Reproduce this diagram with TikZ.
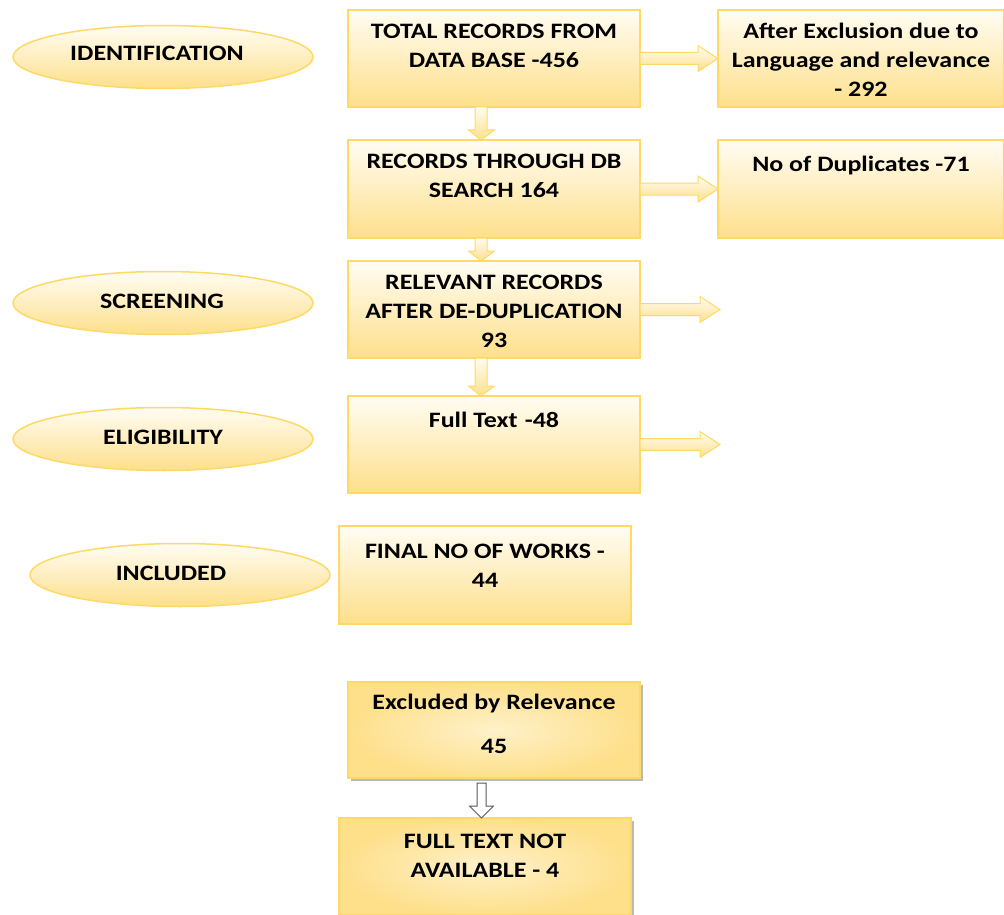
\documentclass[tikz,border=0pt]{standalone}
\usepackage{fontspec}
\setmainfont{Carlito}[FakeStretch=1.18]
\usetikzlibrary{calc,shapes.geometric,shadows}
\definecolor{gold}{HTML}{FFD966}
\definecolor{goldfill}{HTML}{FEE08B}
\definecolor{cream}{HTML}{FFFCF3}
\definecolor{arrowgrey}{HTML}{595959}
\begin{document}
\begin{tikzpicture}[x=1pt,y=-1pt,
  basebox/.style={draw=gold, line width=1.5pt,
    minimum width=292pt, minimum height=97pt, anchor=north west, inner sep=0pt, outer sep=0pt},
  box/.style={basebox, top color=cream, bottom color=goldfill},
  rbox/.style={basebox, inner color=cream!60!goldfill, outer color=goldfill,
    drop shadow={shadow xshift=3pt, shadow yshift=-3pt, opacity=0.45, fill=black!60}},
  stage/.style={ellipse, draw=gold, line width=1.5pt, top color=cream, bottom color=goldfill,
    minimum width=300pt, minimum height=63pt, inner sep=0pt},
  txt/.style={font=\bfseries\fontsize{22}{29}\selectfont, align=center, inner sep=0pt, anchor=north},
  stxt/.style={font=\bfseries\fontsize{22}{29}\selectfont, inner sep=0pt},
  arr/.style={draw=gold, line width=1pt, top color=cream, bottom color=goldfill},
  warr/.style={draw=arrowgrey, line width=1pt, fill=white}
]
\useasboundingbox (0,0) rectangle (1004,915);

% stage ellipses
\node[stage] (e1) at (163,57) {};
\node[stxt] (t1) at ($(e1.center)+(-6,-4)$) {IDENTIFICATION};
\node[stage] (e2) at (163,303) {};
\node[stxt] (t2) at ($(e2.center)+(-1,-2)$) {SCREENING};
\node[stage] (e3) at (163,439) {};
\node[stxt] (t3) at ($(e3.center)+(0,-2)$) {ELIGIBILITY};
\node[stage] (e4) at (180,575) {};
\node[stxt] (t4) at ($(e4.center)+(-9,-2)$) {INCLUDED};

% boxes
\node[box] (b1) at (348,10) {};
\node[box, minimum width=286pt] (r1) at (718,10) {};
\node[box, minimum height=98pt] (b2) at (348,140) {};
\node[box, minimum width=286pt, minimum height=98pt] (r2) at (718,140) {};
\node[box] (b3) at (348,261) {};
\node[box] (b4) at (348,396) {};
\node[box, minimum height=98pt] (b5) at (339,526) {};
\node[rbox, minimum height=96pt] (b6) at (348,682) {};
\node[rbox] (b7) at (339,818) {};

% texts
\node[txt] (tb1) at ($(b1.north)+(0,14)$) {TOTAL RECORDS FROM\\DATA BASE -456};
\node[txt] (tr1) at ($(r1.north)+(0,13)$) {After Exclusion due to\\Language and relevance\\- 292};
\node[txt] (tb2) at ($(b2.north)+(0,14)$) {RECORDS THROUGH DB\\SEARCH 164};
\node[txt] (tr2) at ($(r2.north)+(0,16)$) {No of Duplicates -71};
\node[txt] (tb3) at ($(b3.north)+(0,14)$) {RELEVANT RECORDS\\AFTER DE-DUPLICATION\\93};
\node[txt] (tb4) at ($(b4.north)+(0,16)$) {Full Text\,\,-48};
\node[txt] (tb5) at ($(b5.north)+(0,18)$) {FINAL NO OF WORKS -\\44};
\node[txt] (tb6) at ($(b6.north)+(0,12)$) {Excluded by Relevance\\[15pt]45};
\node[txt] (tb7) at ($(b7.north)+(0,16)$) {FULL TEXT NOT\\AVAILABLE - 4};

% free ends of the open arrows
\coordinate (x3) at ($(b3.east)+(80,0)$);
\coordinate (x4) at ($(b4.east)+(80,0)$);

% horizontal block arrows
\foreach \s/\t in {b1/r1, b2/r2, b3/x3, b4/x4}{
  \path[arr] let \p1=(\s.east), \p2=(\t.west) in
    (\x1,\y1+6pt) -- (\x2-20pt,\y1+6pt) -- (\x2-20pt,\y1+13pt) -- (\x2,\y1)
    -- (\x2-20pt,\y1-13pt) -- (\x2-20pt,\y1-6pt) -- (\x1,\y1-6pt) -- cycle;
}
% vertical block arrows
\foreach \s/\t in {b1/b2, b2/b3, b3/b4}{
  \path[arr] let \p1=(\s.south), \p2=(\t.north) in
    (\x1-19pt,\y1) -- (\x1-7pt,\y1) -- (\x1-7pt,\y2+10pt) -- (\x1+0.5pt,\y2+10pt)
    -- (\x1-13pt,\y2) -- (\x1-25.5pt,\y2+10pt) -- (\x1-19pt,\y2+10pt) -- cycle;
}
\path[warr] let \p1=(b6.south), \p2=(b7.north) in
    (\x1-17pt,\y1-5pt) -- (\x1-8pt,\y1-5pt) -- (\x1-8pt,\y2+12pt) -- (\x1-0.5pt,\y2+12pt)
    -- (\x1-12.5pt,\y2) -- (\x1-24.5pt,\y2+12pt) -- (\x1-17pt,\y2+12pt) -- cycle;
\end{tikzpicture}
\end{document}
